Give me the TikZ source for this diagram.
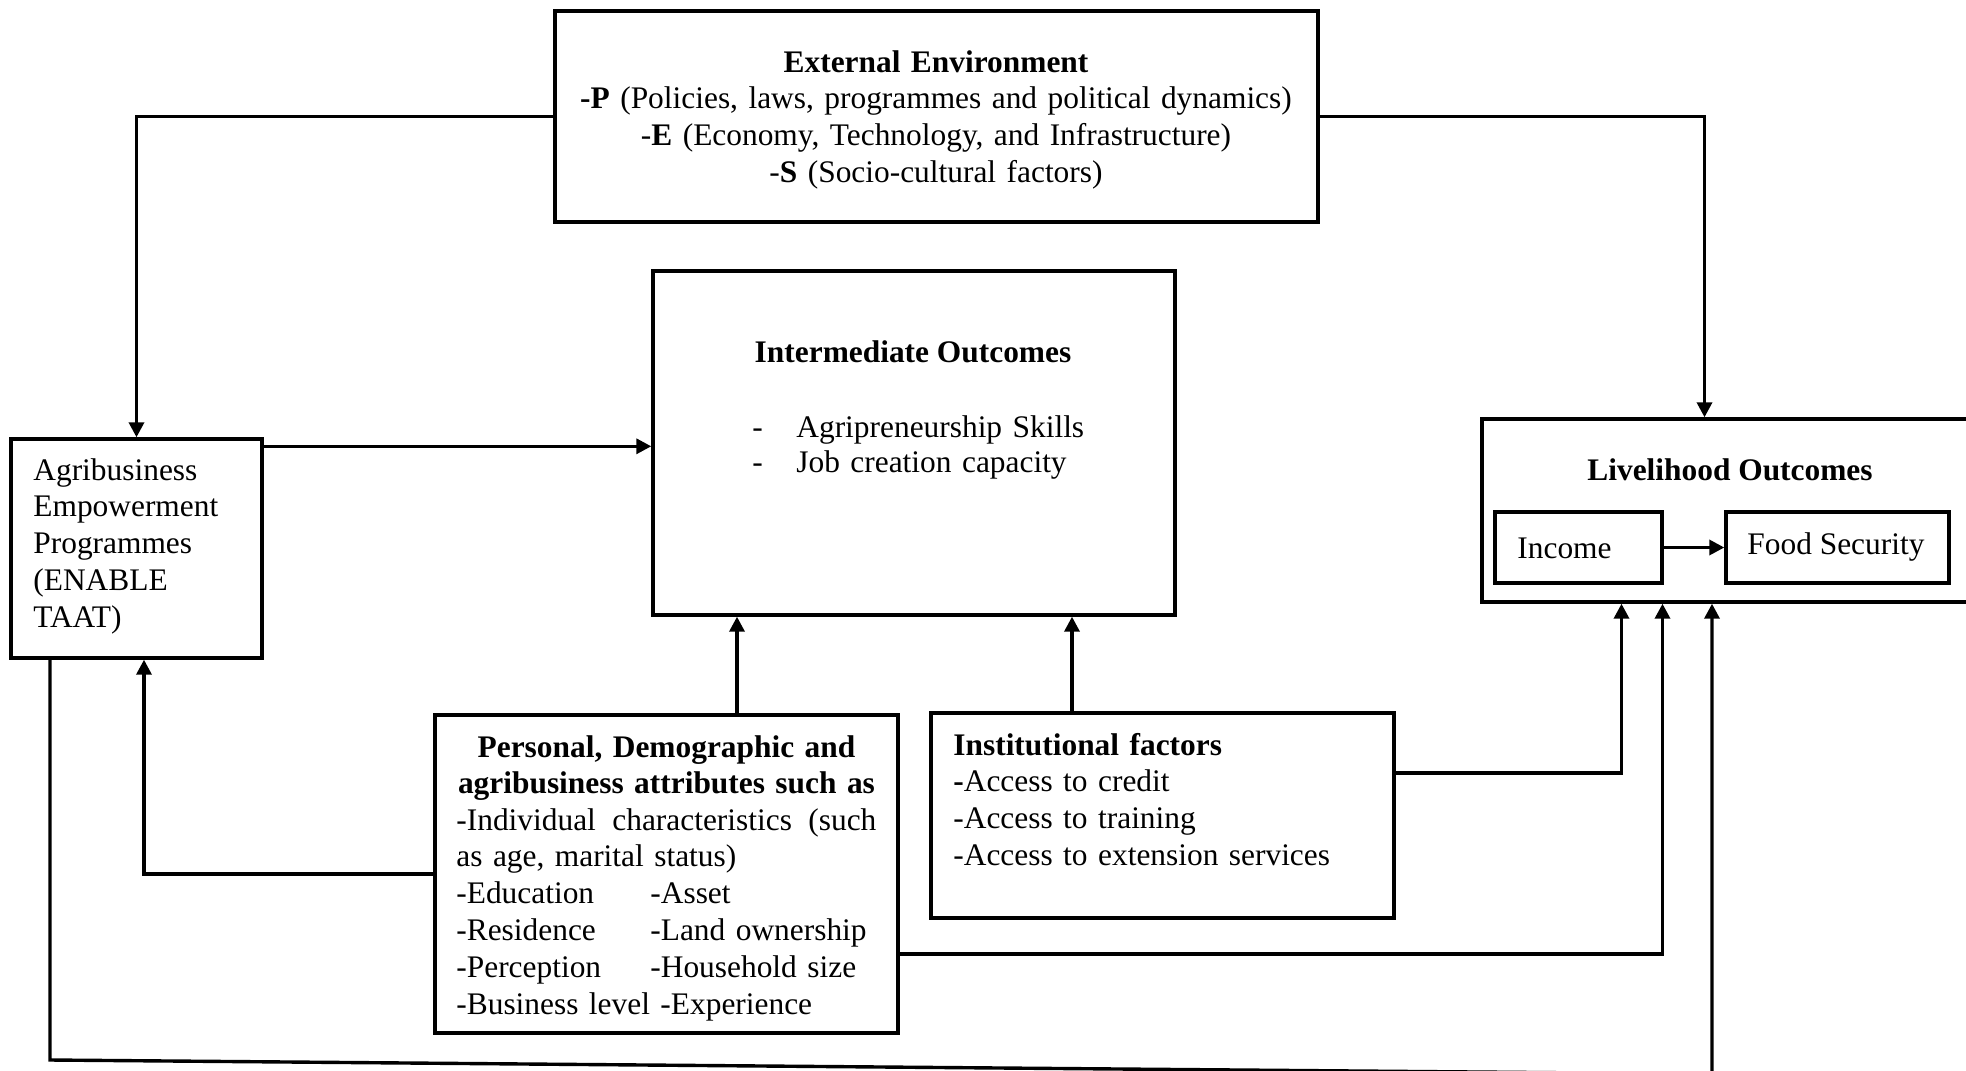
\documentclass[tikz,border=0pt]{standalone}
\usepackage{fontspec}
\setmainfont{Liberation Serif}
\usetikzlibrary{arrows.meta,fit}
\tikzset{
	box/.style={draw,line width=1.7pt,inner sep=0pt},
	txt/.style={inner sep=0pt,font=\fontsize{15.7}{18.4}\selectfont},
	link/.style={line width=1.7pt,->}
}
\begin{document}
\begin{tikzpicture}[x=0.5pt,y=-0.5pt,>={Triangle[length=7.5pt,width=7.5pt]}]
	\useasboundingbox (0,0) rectangle (1966,1071);
	% boxes
	\node[box,fit={(555,11) (1318,222)}] (ext) {};
	\node[box,fit={(11,439) (262,658)}] (agri) {};
	\node[box,fit={(653,271) (1175,615)}] (inter) {};
	\node[box,fit={(1482,419) (1968,602)}] (live) {};
	\node[box,fit={(1495,512) (1662,583)}] (income) {};
	\node[box,fit={(1726,512) (1949,583)}] (food) {};
	\node[box,fit={(435,715) (898,1033)}] (pers) {};
	\node[box,fit={(931,713) (1394,918)}] (inst) {};
	% texts
	\node[txt,text width=380pt,align=center,anchor=base] (exttxt) at (936,72)
		{\textbf{External Environment}\\
		\textbf{-P} (Policies, laws, programmes and political dynamics)\\
		-\textbf{E} (Economy, Technology, and Infrastructure)\\
		-\textbf{S} (Socio-cultural factors)};
	\node[txt,text width=115pt,align=left,anchor=base west] (agritxt) at (33,480)
		{Agribusiness\\ Empowerment\\ Programmes\\ (ENABLE\\ TAAT)};
	\node[txt,anchor=base] (intertitle) at (913,362) {\textbf{Intermediate Outcomes}};
	\node[txt,text width=200pt,align=left,anchor=base west] (interitems) at (752,437)
		{\makebox[22pt][l]{-}Agripreneurship Skills\\[-0.9pt]
		\makebox[22pt][l]{-}Job creation capacity};
	\node[txt,anchor=base] (livetitle) at (1730,480) {\textbf{Livelihood Outcomes}};
	\node[txt,anchor=base west] (incometxt) at (1517,558) {Income};
	\node[txt,anchor=base west] (foodtxt) at (1747,554) {Food Security};
	\node[txt,text width=220pt,align=center,anchor=base] (perstitle) at (666.5,757)
		{\textbf{Personal, Demographic and}\\ \textbf{agribusiness attributes such as}};
	\node[txt,text width=210pt,align=left,anchor=base west] (perstxt) at (456,830)
		{-Individual\hfill characteristics\hfill (such\\
		as age, marital status)\\
		\makebox[97pt][l]{-Education}-Asset\\
		\makebox[97pt][l]{-Residence}-Land ownership\\
		\makebox[97pt][l]{-Perception}-Household size\\
		-Business level -Experience};
	\node[txt,text width=215pt,align=left,anchor=base west] (insttxt) at (953,755)
		{\textbf{Institutional factors}\\
		\textbf{-}Access to credit\\
		-Access to training\\
		-Access to extension services};
	% connectors
	\coordinate (bl) at (50,1060);
	\coordinate (br) at (1712,1074);
	\draw[link] (ext.west) -| (agri.north);
	\draw[link] (ext.east) -| ([xshift=-10.25pt]live.north);
	\draw[link] ([yshift=-4.5pt]agri.north east) -- ([yshift=-4.5pt]agri.north east -| inter.west);
	\draw[link] ([xshift=35.25pt]pers.north) -- ([xshift=35.25pt]pers.north |- inter.south);
	\draw[link] ([xshift=-45.25pt]inst.north) -- ([xshift=-45.25pt]inst.north |- inter.south);
	\draw[link] (pers.west) -| ([xshift=3.75pt]agri.south);
	\draw[link] ([yshift=21.25pt]inst.east) -| ([xshift=-51.75pt]live.south);
	\draw[link] ([yshift=-40pt]pers.east) -| ([xshift=-31.25pt]live.south);
	\draw[link] ([xshift=-43.25pt]agri.south) -- (bl) -- (br) -- (br |- live.south);
	\draw[link] (income.east) -- (food.west);
\end{tikzpicture}
\end{document}
